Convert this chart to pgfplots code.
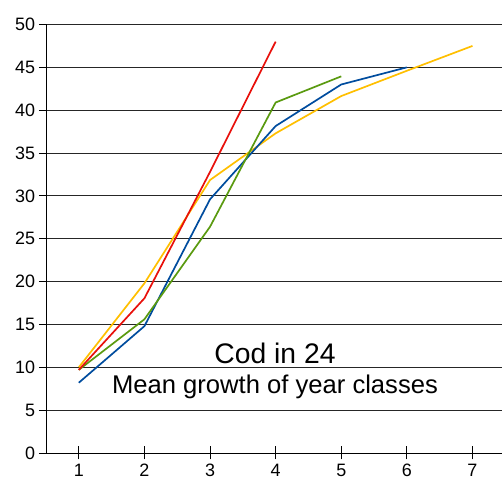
\documentclass[border=0pt]{standalone}
\usepackage{fontspec}
\setmainfont{Liberation Sans}
\usepackage{pgfplots}
\pgfplotsset{compat=1.18}
\definecolor{cred}{HTML}{E8100B}
\definecolor{cyel}{HTML}{FFBF00}
\definecolor{cblue}{HTML}{004C9E}
\definecolor{cgreen}{HTML}{5A9A10}
\pgfplotsset{base/.style={
  scale only axis,
  width=456bp, height=428.5bp,
  xmin=0.5, xmax=7.45,
  ymin=0, ymax=50,
  tick label style={font=\fontsize{18}{20}\selectfont},
  /pgf/number format/assume math mode=true,
}}
\begin{document}
\begin{tikzpicture}
\begin{axis}[
  base,
  name=ax,
  axis lines=left,
  axis line style={black, line width=0.9bp, -},
  xtick=\empty,
  ytick={0,5,...,50},
  ytick align=outside,
  y tick style={black, line width=0.8bp},
  major tick length=7bp,
  ymajorgrids=true,
  grid style={black!85, line width=0.9bp},
  yticklabel style={xshift=-0.5bp},
  clip=false,
]
\addplot[cyel, line width=1.7bp] coordinates {(1,10.0) (2,19.8) (3,31.85) (4,37.3) (5,41.65) (6,44.6) (7,47.5)};
\addplot[cblue, line width=1.7bp] coordinates {(1,8.2) (2,14.8) (3,29.6) (4,38.15) (5,43.0) (6,45.0)};
\addplot[cgreen, line width=1.7bp] coordinates {(1,9.7) (2,15.6) (3,26.4) (4,40.9) (5,43.95)};
\addplot[cred, line width=1.7bp] coordinates {(1,9.7) (2,18.05) (3,32.8) (4,48.0)};
\node[anchor=base, font=\fontsize{28.4}{30}\selectfont] at (axis cs:3.99,10.5) {Cod in 24};
\node[anchor=base, font=\fontsize{25.7}{28}\selectfont] at (axis cs:3.99,6.9) {Mean growth of year classes};
\end{axis}
\begin{axis}[
  base,
  axis x line=bottom,
  axis y line=none,
  axis line style={draw=none},
  xtick={1,2,3,4,5,6,7},
  ytick=\empty,
  xtick align=center,
  x tick style={black, line width=0.8bp},
  major tick length=13bp,
  xticklabel style={yshift=-1bp},
]
\end{axis}
\pgfresetboundingbox
\path ([shift={(-46bp,-31bp)}]ax.south west) rectangle ([shift={(0bp,24.5bp)}]ax.north east);
\end{tikzpicture}
\end{document}
